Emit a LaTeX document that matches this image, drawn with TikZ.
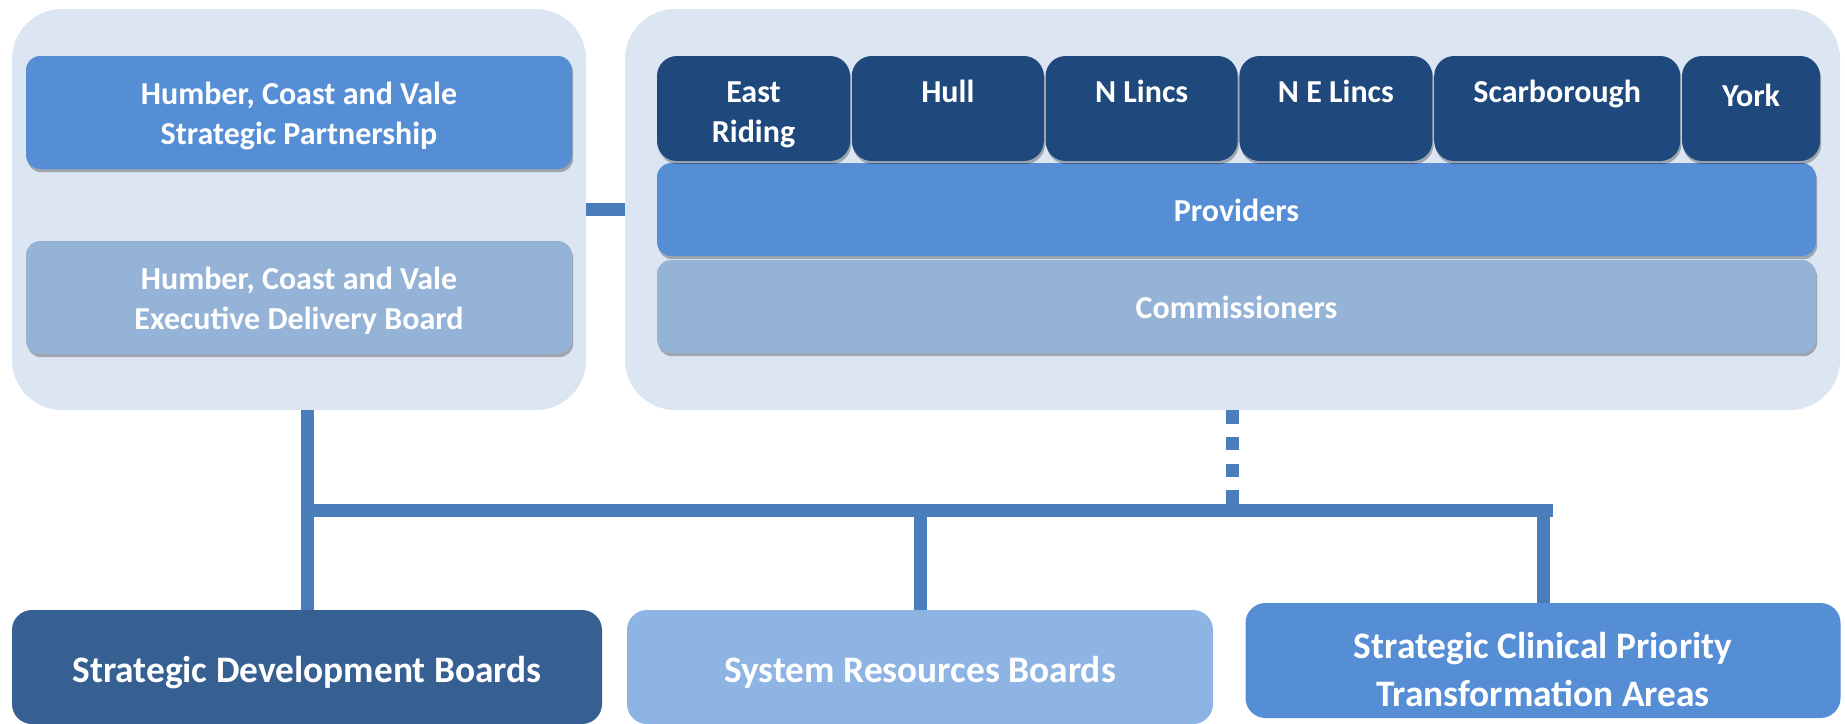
\documentclass[tikz,border=0pt]{standalone}
\usepackage{fontspec}
\setmainfont{Carlito}
\usepackage{tikz}
\usetikzlibrary{positioning,shadows}
\definecolor{panelbg}{RGB}{220,230,242}
\definecolor{midblue}{RGB}{85,142,213}
\definecolor{paleblue}{RGB}{149,179,215}
\definecolor{navyblue}{RGB}{31,73,125}
\definecolor{deepblue}{RGB}{55,96,146}
\definecolor{skyblue}{RGB}{142,180,227}
\definecolor{linkblue}{RGB}{74,126,187}
% struts as tall as the font's ascent and descent, so lines sit like in a slide
\newcommand{\topstrut}{\rule[-0.25em]{0pt}{1.22em}}
\newcommand{\townstrut}{\rule[-0.25em]{0pt}{1.35em}}
\newcommand{\lowstrut}{\rule[-0.25em]{0pt}{1.65em}}
\tikzset{
  every node/.style={text=white},
  panel/.style={rectangle,fill=panelbg,rounded corners=25pt,inner sep=0pt,minimum height=200.5pt},
  inbox/.style={rectangle,rounded corners=7pt,inner sep=0pt,align=center,
    font=\bfseries\fontsize{16}{20}\selectfont,
    drop shadow={shadow xshift=0.6pt,shadow yshift=-1.6pt,fill=black,opacity=0.28}},
  town/.style={inbox,fill=navyblue,rounded corners=10pt,minimum height=52.5pt},
  board/.style={rectangle,rounded corners=10pt,inner sep=0pt,align=center,minimum height=57pt,
    font=\bfseries\fontsize{18.7}{24}\selectfont},
  link/.style={linkblue,line width=6.5pt},
  dashlink/.style={link,dash pattern=on 6.67pt off 6.67pt}
}

\begin{document}
\begin{tikzpicture}[x=0.5pt,y=-0.5pt]
\useasboundingbox (0,0) rectangle (1845,723);
% the two shaded panels
\node[panel,minimum width=287pt] (leftbg) at (299,209.5) {};
\node[panel,minimum width=607.5pt] (rightbg) at (1232.5,209.5) {};
% partnership and board, left panel
\node[inbox,fill=midblue,minimum width=273pt,minimum height=56.5pt] (hcvsp) at (299,112.5)
  {\topstrut Humber, Coast and Vale\\Strategic Partnership\topstrut};
\node[inbox,fill=paleblue,minimum width=273pt,minimum height=56.5pt] (hcved) at (299,297.5)
  {\topstrut Humber, Coast and Vale\\Executive Delivery Board\topstrut};
% right panel, bottom layer first so the shadows fall on top
\node[inbox,fill=paleblue,minimum width=579.5pt,minimum height=46.5pt] (comm) at (1236.5,306.5)
  {\topstrut Commissioners};
\node[inbox,fill=midblue,minimum width=579.5pt,minimum height=46.5pt] (prov) at (1236.5,209.5)
  {\topstrut Providers};
\node[town,minimum width=96.5pt] (east) at (753.5,108.5) {\townstrut East\\Riding\topstrut};
\node[town,minimum width=96pt,right=0.5pt of east] (hull) {\townstrut Hull\\\topstrut};
\node[town,minimum width=96pt,right=0.5pt of hull] (nlincs) {\townstrut N Lincs\\\topstrut};
\node[town,minimum width=96.5pt,right=0.5pt of nlincs] (nelincs) {\townstrut N E Lincs\\\topstrut};
\node[town,minimum width=123pt,right=0.5pt of nelincs] (scar) {\townstrut Scarborough\\\topstrut};
\node[town,minimum width=69pt,right=0.5pt of scar] (york) {\townstrut\raisebox{-2.3pt}{York}\\\topstrut};
% boards along the bottom
\node[board,fill=deepblue,minimum width=295pt] (sdb) at (307,667)
  {\townstrut Strategic Development Boards};
\node[board,fill=skyblue,minimum width=293pt] (srb) at (920,667)
  {\townstrut System Resources Boards};
\node[board,fill=midblue,minimum width=297.5pt,minimum height=57.5pt] (scpta) at (1543,660.5)
  {\lowstrut Strategic Clinical Priority\\Transformation Areas\topstrut};
% connectors
\coordinate (busL) at (307,510);
\coordinate (busR) at (1553,510);
\draw[link] (leftbg.east) -- (rightbg.west);
\draw[dashlink] (rightbg.south) -- (rightbg.south |- busL);
\draw[link] (sdb.north) -- (sdb.north |- leftbg.south);
\draw[link] (srb.north) -- (srb.north |- busL);
\draw[link] (scpta.north) -- (scpta.north |- busL);
\draw[link] (busL) -- (busR);
\end{tikzpicture}
\end{document}
